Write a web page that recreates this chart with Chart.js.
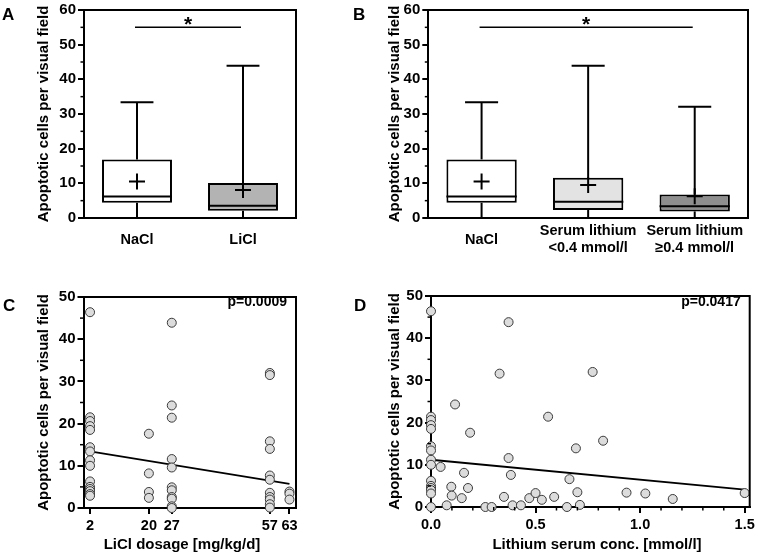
<!DOCTYPE html>
<html><head><meta charset="utf-8">
<script src="https://cdn.jsdelivr.net/npm/chart.js@4"></script>
<style>
body{margin:0;background:#fff;width:758px;height:554px;position:relative;overflow:hidden;font-family:"Liberation Sans",Arial,sans-serif;}
.p{position:absolute;width:379px;height:277px;}
canvas{display:block;}
.lbl{position:absolute;font-weight:bold;font-size:17px;line-height:17px;color:#000;}
</style></head><body>
<div class="p" style="left:0;top:0"><canvas id="cA" width="379" height="277"></canvas></div>
<div class="p" style="left:379px;top:0"><canvas id="cB" width="379" height="277"></canvas></div>
<div class="p" style="left:0;top:277px"><canvas id="cC" width="379" height="277"></canvas></div>
<div class="p" style="left:379px;top:277px"><canvas id="cD" width="379" height="277"></canvas></div>
<div class="lbl" style="left:2px;top:6px">A</div>
<div class="lbl" style="left:353px;top:6px">B</div>
<div class="lbl" style="left:3px;top:297px">C</div>
<div class="lbl" style="left:354px;top:297px">D</div>
<script>
// ---------- data ----------
const yTitle = 'Apoptotic cells per visual field';
const yTicksBox = [0, 10, 20, 30, 40, 50, 60];
const yTicksScatter = [0, 10, 20, 30, 40, 50];

const catsA = ['NaCl', 'LiCl'];
const minA = [0, 0];
const q1A = [4.4, 2.1];
const medA = [6.2, 3.5];
const q3A = [16.9, 10.1];
const maxA = [33.4, 43.9];
const meanA = [10.5, 8.1];
const fillA = ['#ffffff', '#b3b3b3'];

const catsB = ['NaCl', ['Serum lithium', '<0.4 mmol/l'], ['Serum lithium', '\u22650.4 mmol/l']];
const minB = [0, 0, 0];
const q1B = [4.4, 2.3, 1.9];
const medB = [6.2, 4.7, 3.4];
const q3B = [16.9, 11.6, 6.8];
const maxB = [33.4, 43.9, 32.1];
const meanB = [10.5, 9.5, 6.3];
const fillB = ['#ffffff', '#e3e3e3', '#8e8e8e'];

const sigLevel = 55;
const sigA = [0, 1];
const sigB = [0, 2];

const dosageTicks = [2, 20, 27, 57, 63];
const dosageX = [2,2,2,2,2,2,2,2,2,2,2,2,2,2,2,
  20,20,20,20,
  27,27,27,27,27,27,27,27,27,27,27,
  57,57,57,57,57,57,57,57,57,57,57,
  63,63,63];
const dosageY = [46.4,21.5,20.6,19.4,18.5,14.4,13.4,11.3,10.0,6.3,5.0,4.5,4.0,3.3,2.9,
  17.6,8.2,3.8,2.4,
  43.9,24.3,21.4,11.6,9.6,4.9,4.2,2.6,2.2,0.4,0.0,
  32.0,31.5,15.8,14.0,7.7,6.7,3.6,2.6,2.0,0.9,0.1,
  3.9,3.4,2.0];
const dosageFitX = [2, 63];
const dosageFitY = [13.4, 5.7];

const serumTicks = [0, 0.5, 1.0, 1.5];
const serumX = [0,0,0,0,0,0,0,0,0,0,0,0,0,0,0,
  0.046,0.075,0.097,0.099,0.115,0.147,0.158,0.177,0.187,0.26,
  0.29,0.328,0.349,0.371,0.371,0.382,0.39,0.43,0.47,0.50,
  0.53,0.56,0.589,0.65,0.662,0.693,0.70,0.712,0.773,0.823,
  0.935,1.025,1.156,1.5];
const serumY = [46.4,21.4,20.6,19.4,18.5,14.4,13.4,11.2,10.0,6.2,5.0,4.5,4.0,3.2,0,
  9.5,0.4,4.8,2.7,24.3,2.1,8.1,4.5,17.6,0,
  0,31.6,2.4,43.8,11.6,7.6,0.4,0.4,2.1,3.3,
  1.7,21.4,2.4,0,6.6,13.9,3.5,0.5,32.0,15.7,
  3.4,3.2,1.9,3.3];
const serumFitX = [0, 1.5];
const serumFitY = [11.2, 4.1];

// ---------- helpers ----------
const FONT = "'Liberation Sans', Arial, Helvetica, sans-serif";
Chart.defaults.font.family = FONT;
Chart.defaults.font.weight = 'bold';
Chart.defaults.font.size = 14;
Chart.defaults.color = '#000';

function zeroPad(s) { s.paddingLeft = 0; s.paddingRight = 0; s.paddingTop = 0; s.paddingBottom = 0; }

const frame = {
  id: 'frame',
  afterDatasetsDraw(chart) {
    const {ctx, chartArea: a} = chart;
    ctx.save(); ctx.strokeStyle = '#000'; ctx.lineWidth = 2;
    ctx.beginPath(); ctx.moveTo(a.left, a.top); ctx.lineTo(a.right, a.top); ctx.lineTo(a.right, a.bottom); ctx.stroke();
    ctx.restore();
  }
};

const minorTicks = {
  id: 'minorTicks',
  afterDraw(chart, args, opts) {
    const ctx = chart.ctx;
    ctx.save(); ctx.strokeStyle = '#000'; ctx.lineWidth = 1.5;
    ['x', 'y'].forEach(k => {
      const o = opts[k]; if (!o) return;
      const s = chart.scales[k];
      const majors = s.ticks.map(t => t.value);
      const n = Math.round((s.max - s.min) / o.step);
      for (let i = 0; i <= n; i++) {
        const v = s.min + i * o.step;
        if (majors.some(m => Math.abs(m - v) < o.step / 10)) continue;
        const p = s.getPixelForValue(v);
        ctx.beginPath();
        if (k === 'y') { ctx.moveTo(s.right, p); ctx.lineTo(s.right - o.len, p); }
        else { ctx.moveTo(p, s.top); ctx.lineTo(p, s.top + o.len); }
        ctx.stroke();
      }
    });
    ctx.restore();
  }
};

const boxExtras = {
  id: 'boxExtras',
  afterDatasetsDraw(chart, args, o) {
    if (!o.mins) return;
    const {ctx, scales: {x, y}} = chart;
    const bars = chart.getDatasetMeta(0).data;
    ctx.save(); ctx.strokeStyle = '#000'; ctx.lineWidth = 2;
    const line = (x1, y1, x2, y2) => { ctx.beginPath(); ctx.moveTo(x1, y1); ctx.lineTo(x2, y2); ctx.stroke(); };
    o.mins.forEach((mn, i) => {
      const cx = x.getPixelForValue(i);
      const hw = bars[i].width / 2;
      const cw = hw * 0.47;
      line(cx - hw, y.getPixelForValue(o.meds[i]), cx + hw, y.getPixelForValue(o.meds[i]));
      line(cx, y.getPixelForValue(o.q3s[i]), cx, y.getPixelForValue(o.maxs[i]));
      line(cx, y.getPixelForValue(o.q1s[i]), cx, y.getPixelForValue(mn));
      line(cx - cw, y.getPixelForValue(o.maxs[i]), cx + cw, y.getPixelForValue(o.maxs[i]));
      line(cx - cw, y.getPixelForValue(mn), cx + cw, y.getPixelForValue(mn));
    });
    // significance bar
    const sy = y.getPixelForValue(o.sigLevel);
    const x1 = x.getPixelForValue(o.sig[0]) - 2, x2 = x.getPixelForValue(o.sig[1]) - 2;
    ctx.lineWidth = 1.5;
    line(x1, sy, x2, sy);
    ctx.fillStyle = '#000';
    ctx.font = "bold 21px " + FONT;
    ctx.textAlign = 'center'; ctx.textBaseline = 'alphabetic';
    ctx.fillText('*', (x1 + x2) / 2, sy + 4);
    ctx.restore();
  }
};

const textLabels = {
  id: 'textLabels',
  afterDraw(chart, args, o) {
    if (!o.p) return;
    const {ctx, chartArea: a} = chart;
    ctx.save(); ctx.fillStyle = '#000';
    ctx.font = "bold 14px " + FONT;
    ctx.textAlign = 'right'; ctx.textBaseline = 'alphabetic';
    ctx.fillText(o.p, a.right - o.dx, a.top + o.dy);
    ctx.font = "bold 15px " + FONT;
    ctx.textAlign = 'center'; ctx.textBaseline = 'middle';
    ctx.fillText(o.xt, a.left + o.xtx, chart.height - 9);
    ctx.restore();
  }
};

function yScale(ticks, max, g) {
  return {
    min: 0, max: max,
    afterBuildTicks: s => { s.ticks = ticks.map(v => ({value: v})); },
    grid: {display: true, drawOnChartArea: false, drawTicks: true, tickLength: 6, color: '#000', lineWidth: 2},
    border: {display: true, color: '#000', width: 2},
    ticks: {padding: 2, font: {size: 15, weight: 'bold'}, color: '#000'},
    title: {display: true, text: yTitle, color: '#000', font: {size: 15, weight: 'bold'}, padding: {top: g.tp, bottom: 0}},
    afterFit: s => { s.width = g.yw; zeroPad(s); }
  };
}

function boxChart(id, cats, mins, q1s, meds, q3s, maxs, means, fills, sig, g) {
  return new Chart(document.getElementById(id), {
    type: 'bar',
    data: {
      labels: cats,
      datasets: [
        {type: 'bar', data: q1s.map((q, i) => [q, q3s[i]]), backgroundColor: fills, borderColor: '#000',
         borderWidth: 2, borderSkipped: false, categoryPercentage: 1, barPercentage: 0.66, order: 2},
        {type: 'line', data: means, showLine: false, pointStyle: 'cross', pointRadius: 8, pointBorderWidth: 2,
         borderColor: '#000', pointBorderColor: '#000', order: 1, clip: false}
      ]
    },
    options: {
      responsive: false, animation: false, events: [],
      layout: {padding: {left: 0, right: g.r, top: g.t, bottom: 0}},
      plugins: {legend: {display: false}, tooltip: {enabled: false},
        boxExtras: {mins, q1s, meds, q3s, maxs, sig, sigLevel},
        minorTicks: {y: {step: 5, len: 3.5}}},
      scales: {
        x: {
          grid: {display: true, drawOnChartArea: false, drawTicks: false, color: '#000'},
          border: {display: true, color: '#000', width: 2},
          ticks: {padding: 13, font: {size: 14.5, weight: 'bold'}, color: '#000', maxRotation: 0, autoSkip: false, crossAlign: g.ca},
          afterFit: s => { s.height = g.xh; zeroPad(s); }
        },
        y: yScale(yTicksBox, 60, g)
      }
    },
    plugins: [boxExtras, frame, minorTicks]
  });
}

function scatterChart(id, xs, ys, fx, fy, xTicks, xMax, fmt, minorX, xTitle, pText, g) {
  return new Chart(document.getElementById(id), {
    type: 'scatter',
    data: {
      datasets: [
        {type: 'line', data: fx.map((x, i) => ({x, y: fy[i]})), borderColor: '#000', borderWidth: 1.8,
         pointRadius: 0, order: 2, clip: false},
        {data: xs.map((x, i) => ({x, y: ys[i]})), backgroundColor: '#dcdcdc', borderColor: '#3a3a3a',
         borderWidth: 1, pointRadius: 4.5, order: 1, clip: false}
      ]
    },
    options: {
      responsive: false, animation: false, events: [],
      layout: {padding: {left: 0, right: g.r, top: g.t, bottom: 0}},
      plugins: {legend: {display: false}, tooltip: {enabled: false},
        textLabels: {p: pText, dx: 9, dy: g.pdy, xt: xTitle, xtx: g.xtx},
        minorTicks: minorX ? {y: {step: 5, len: 3.5}, x: {step: minorX, len: 3.5}} : {y: {step: 5, len: 3.5}}},
      scales: {
        x: {
          type: 'linear', min: 0, max: xMax,
          afterBuildTicks: s => { s.ticks = xTicks.map(v => ({value: v})); },
          grid: {display: true, drawOnChartArea: false, drawTicks: true, tickLength: 6, color: '#000', lineWidth: 2},
          border: {display: true, color: '#000', width: 2},
          ticks: {padding: 3, font: {size: 14.5, weight: 'bold'}, color: '#000', maxRotation: 0, autoSkip: false, callback: fmt},
          afterFit: s => { s.height = g.xh; zeroPad(s); }
        },
        y: yScale(yTicksScatter, 50, g)
      }
    },
    plugins: [frame, minorTicks, textLabels]
  });
}

boxChart('cA', catsA, minA, q1A, medA, q3A, maxA, meanA, fillA, sigA, {yw: 84, r: 83, t: 6.3, xh: 59, tp: 35, ca: 'near'});
boxChart('cB', catsB, minB, q1B, medB, q3B, maxB, meanB, fillB, sigB, {yw: 49.3, r: 8.3, t: 6.3, xh: 59, tp: 6.5, ca: 'center'});
scatterChart('cC', dosageX, dosageY, dosageFitX, dosageFitY, dosageTicks, 65, v => String(v), null,
  'LiCl dosage [mg/kg/d]', 'p=0.0009', {yw: 83.5, r: 83, t: 20, xh: 46, tp: 35, pdy: 8.5, xtx: 98.5});
scatterChart('cD', serumX, serumY, serumFitX, serumFitY, serumTicks, 1.524, v => Number(v).toFixed(1), 0.1,
  'Lithium serum conc. [mmol/l]', 'p=0.0417', {yw: 52, r: 8.3, t: 19, xh: 47, tp: 7, pdy: 9.5, xtx: 166});
</script>
</body></html>
